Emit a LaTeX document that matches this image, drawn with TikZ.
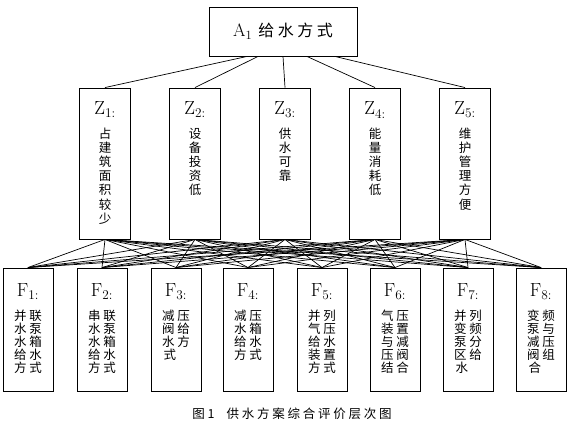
\documentclass[tikz,border=0pt]{standalone}
\usepackage{fontspec}
\newfontfamily\cjk{Noto Sans CJK SC}
\newfontfamily\cjksp[LetterSpace=22]{Noto Sans CJK SC}
\usetikzlibrary{calc}

% text of a criterion box, top aligned
\newcommand{\zcrit}[2]{\parbox[c][151pt][t]{51pt}{\centering\vspace*{14pt}%
  {\fontsize{19}{19}\selectfont Z\textsubscript{#1:}\par}\vspace{9pt}%
  {\cjk\fontsize{12.5}{14.2}\selectfont #2\par}}}
% text of a plan box, two characters a row
\newcommand{\fplan}[2]{\parbox[c][123pt][t]{50pt}{\centering\vspace*{16pt}%
  {\fontsize{19}{19}\selectfont F\textsubscript{#1:}\par}\vspace{9pt}%
  {\cjksp\fontsize{12.5}{13}\selectfont #2\par}}}

\begin{document}
\begin{tikzpicture}[x=1pt,y=-1pt,
    goal/.style={draw, line width=0.9pt, minimum width=148pt, minimum height=49pt, inner sep=0pt},
    crit/.style={draw, line width=0.9pt, inner sep=0pt},
    plan/.style={draw, line width=0.9pt, inner sep=0pt},
    link/.style={line width=0.7pt}]
  \useasboundingbox (0,0) rectangle (572,433);

  % goal
  \node[goal] (A) at (283,31.5) {{\fontsize{18}{18}\selectfont A\textsubscript{1}}\hspace{6pt}{\cjksp\fontsize{16}{16}\selectfont 给水方式}};

  % criteria
  \node[crit] (z1) at (105,163.5) {\zcrit{1}{占\\建\\筑\\面\\积\\较\\少}};
  \node[crit] (z2) at (195,163.5) {\zcrit{2}{设\\备\\投\\资\\低}};
  \node[crit] (z3) at (285,163.5) {\zcrit{3}{供\\水\\可\\靠}};
  \node[crit] (z4) at (375,163.5) {\zcrit{4}{能\\量\\消\\耗\\低}};
  \node[crit] (z5) at (465,163.5) {\zcrit{5}{维\\护\\管\\理\\方\\便}};

  % plans
  \node[plan] (f1) at (28,329.5) {\fplan{1}{并联\\水泵\\水箱\\给水\\方式}};
  \node[plan] (f2) at (102,329.5) {\fplan{2}{串联\\水泵\\水箱\\给水\\方式}};
  \node[plan] (f3) at (176,329.5) {\fplan{3}{减压\\阀给\\水方\\式\phantom{式}}};
  \node[plan] (f4) at (248,329.5) {\fplan{4}{减压\\水箱\\给水\\方式}};
  \node[plan] (f5) at (322,329.5) {\fplan{5}{并列\\气压\\给水\\装置\\方式}};
  \node[plan] (f6) at (395,329.5) {\fplan{6}{气压\\装置\\与减\\压阀\\结合}};
  \node[plan] (f7) at (468,329.5) {\fplan{7}{并列\\变频\\泵分\\区给\\水\phantom{水}}};
  \node[plan] (f8) at (541,329.5) {\fplan{8}{变频\\泵与\\减压\\阀组\\合\phantom{合}}};

  % links
  \foreach \i/\dx in {1/-36,2/-25,3/0,4/24,5/52}
    \draw[link] ($(A.south)+(\dx,0)$) -- (z\i.north);
  \foreach \i in {1,...,5}
    \foreach \j in {1,...,8}
      \draw[link] (z\i.south) -- (f\j.north);

  \node[font=\cjksp\fontsize{12.5}{12.5}\selectfont] (cap) at (292,414) {图1\hspace{12pt}供水方案综合评价层次图};
\end{tikzpicture}
\end{document}
